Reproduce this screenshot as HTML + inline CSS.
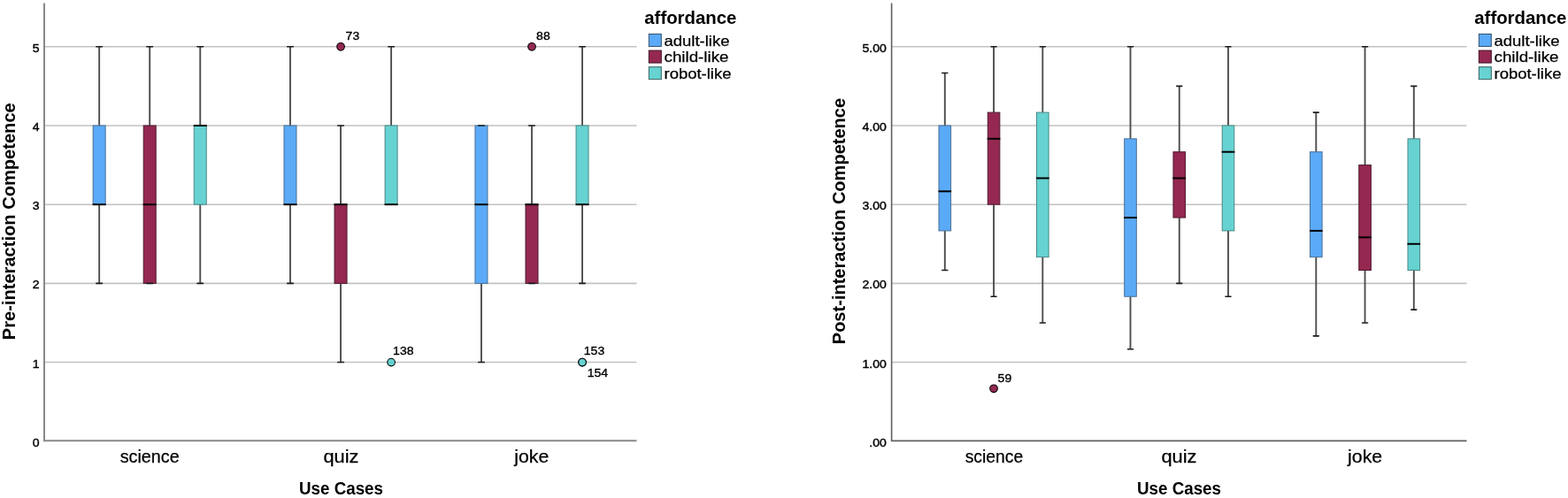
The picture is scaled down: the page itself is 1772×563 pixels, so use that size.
<!DOCTYPE html>
<html><head><meta charset="utf-8"><title>Box plots</title>
<style>
html,body{margin:0;padding:0;background:#fff;}
body{width:1772px;height:563px;overflow:hidden;}
svg{display:block;}
text{font-family:"Liberation Sans", Arial, sans-serif;fill:#000;}
</style></head><body>
<svg width="1772" height="563" viewBox="0 0 1772 563">
<rect width="1772" height="563" fill="#fff"/>
<line x1="50" y1="409.56" x2="719.5" y2="409.56" stroke="#c2c2c2" stroke-width="1.6"/>
<line x1="50" y1="320.37" x2="719.5" y2="320.37" stroke="#c2c2c2" stroke-width="1.6"/>
<line x1="50" y1="231.18" x2="719.5" y2="231.18" stroke="#c2c2c2" stroke-width="1.6"/>
<line x1="50" y1="141.99" x2="719.5" y2="141.99" stroke="#c2c2c2" stroke-width="1.6"/>
<line x1="50" y1="52.80" x2="719.5" y2="52.80" stroke="#c2c2c2" stroke-width="1.6"/>
<path d="M50 3.5 V498.3 H719.5" fill="none" stroke="#888888" stroke-width="2"/>
<text x="44.60" y="504.75" font-size="13" font-weight="normal" text-anchor="end" textLength="7.81" lengthAdjust="spacingAndGlyphs" stroke="#000" stroke-width="0.4">0</text>
<text x="44.60" y="415.56" font-size="13" font-weight="normal" text-anchor="end" textLength="7.81" lengthAdjust="spacingAndGlyphs" stroke="#000" stroke-width="0.4">1</text>
<text x="44.60" y="326.37" font-size="13" font-weight="normal" text-anchor="end" textLength="7.81" lengthAdjust="spacingAndGlyphs" stroke="#000" stroke-width="0.4">2</text>
<text x="44.60" y="237.18" font-size="13" font-weight="normal" text-anchor="end" textLength="7.81" lengthAdjust="spacingAndGlyphs" stroke="#000" stroke-width="0.4">3</text>
<text x="44.60" y="147.99" font-size="13" font-weight="normal" text-anchor="end" textLength="7.81" lengthAdjust="spacingAndGlyphs" stroke="#000" stroke-width="0.4">4</text>
<text x="44.60" y="58.80" font-size="13" font-weight="normal" text-anchor="end" textLength="7.81" lengthAdjust="spacingAndGlyphs" stroke="#000" stroke-width="0.4">5</text>
<line x1="112.15" y1="141.99" x2="112.15" y2="52.80" stroke="#4d4d4d" stroke-width="1.9"/>
<line x1="112.15" y1="231.18" x2="112.15" y2="320.37" stroke="#4d4d4d" stroke-width="1.9"/>
<rect x="105.15" y="141.99" width="14" height="89.19" fill="#5aaaf8" stroke="#4a6f94" stroke-width="1"/>
<line x1="108.85" y1="52.80" x2="115.45" y2="52.80" stroke="#1c1c1c" stroke-width="1.6" stroke-linecap="round"/>
<line x1="108.85" y1="320.37" x2="115.45" y2="320.37" stroke="#1c1c1c" stroke-width="1.6" stroke-linecap="round"/>
<line x1="104.65" y1="231.18" x2="119.65" y2="231.18" stroke="#000" stroke-width="2"/>
<line x1="169.20" y1="141.99" x2="169.20" y2="52.80" stroke="#4d4d4d" stroke-width="1.9"/>
<rect x="162.20" y="141.99" width="14" height="178.38" fill="#942851" stroke="#4e1a30" stroke-width="1"/>
<line x1="165.90" y1="52.80" x2="172.50" y2="52.80" stroke="#1c1c1c" stroke-width="1.6" stroke-linecap="round"/>
<line x1="165.90" y1="320.37" x2="172.50" y2="320.37" stroke="#1c1c1c" stroke-width="1.6" stroke-linecap="round"/>
<line x1="161.70" y1="231.18" x2="176.70" y2="231.18" stroke="#000" stroke-width="2"/>
<line x1="226.25" y1="141.99" x2="226.25" y2="52.80" stroke="#4d4d4d" stroke-width="1.9"/>
<line x1="226.25" y1="231.18" x2="226.25" y2="320.37" stroke="#4d4d4d" stroke-width="1.9"/>
<rect x="219.25" y="141.99" width="14" height="89.19" fill="#66d2d1" stroke="#4a8886" stroke-width="1"/>
<line x1="222.95" y1="52.80" x2="229.55" y2="52.80" stroke="#1c1c1c" stroke-width="1.6" stroke-linecap="round"/>
<line x1="222.95" y1="320.37" x2="229.55" y2="320.37" stroke="#1c1c1c" stroke-width="1.6" stroke-linecap="round"/>
<line x1="218.75" y1="141.99" x2="233.75" y2="141.99" stroke="#000" stroke-width="2"/>
<line x1="328.00" y1="141.99" x2="328.00" y2="52.80" stroke="#4d4d4d" stroke-width="1.9"/>
<line x1="328.00" y1="231.18" x2="328.00" y2="320.37" stroke="#4d4d4d" stroke-width="1.9"/>
<rect x="321.00" y="141.99" width="14" height="89.19" fill="#5aaaf8" stroke="#4a6f94" stroke-width="1"/>
<line x1="324.70" y1="52.80" x2="331.30" y2="52.80" stroke="#1c1c1c" stroke-width="1.6" stroke-linecap="round"/>
<line x1="324.70" y1="320.37" x2="331.30" y2="320.37" stroke="#1c1c1c" stroke-width="1.6" stroke-linecap="round"/>
<line x1="320.50" y1="231.18" x2="335.50" y2="231.18" stroke="#000" stroke-width="2"/>
<line x1="385.05" y1="231.18" x2="385.05" y2="141.99" stroke="#4d4d4d" stroke-width="1.9"/>
<line x1="385.05" y1="320.37" x2="385.05" y2="409.56" stroke="#4d4d4d" stroke-width="1.9"/>
<rect x="378.05" y="231.18" width="14" height="89.19" fill="#942851" stroke="#4e1a30" stroke-width="1"/>
<line x1="381.75" y1="141.99" x2="388.35" y2="141.99" stroke="#1c1c1c" stroke-width="1.6" stroke-linecap="round"/>
<line x1="381.75" y1="409.56" x2="388.35" y2="409.56" stroke="#1c1c1c" stroke-width="1.6" stroke-linecap="round"/>
<line x1="377.55" y1="231.18" x2="392.55" y2="231.18" stroke="#000" stroke-width="2"/>
<circle cx="385.05" cy="52.80" r="4.3" fill="#942851" stroke="#000" stroke-width="1.1"/>
<text x="390.60" y="45.30" font-size="13" font-weight="normal" text-anchor="start" textLength="15.61" lengthAdjust="spacingAndGlyphs" stroke="#000" stroke-width="0.35">73</text>
<line x1="442.10" y1="141.99" x2="442.10" y2="52.80" stroke="#4d4d4d" stroke-width="1.9"/>
<rect x="435.10" y="141.99" width="14" height="89.19" fill="#66d2d1" stroke="#4a8886" stroke-width="1"/>
<line x1="438.80" y1="52.80" x2="445.40" y2="52.80" stroke="#1c1c1c" stroke-width="1.6" stroke-linecap="round"/>
<line x1="438.80" y1="231.18" x2="445.40" y2="231.18" stroke="#1c1c1c" stroke-width="1.6" stroke-linecap="round"/>
<line x1="434.60" y1="231.18" x2="449.60" y2="231.18" stroke="#000" stroke-width="2"/>
<circle cx="442.10" cy="409.56" r="4.3" fill="#66d2d1" stroke="#000" stroke-width="1.1"/>
<text x="444.10" y="401.30" font-size="13" font-weight="normal" text-anchor="start" textLength="23.42" lengthAdjust="spacingAndGlyphs" stroke="#000" stroke-width="0.35">138</text>
<line x1="543.95" y1="320.37" x2="543.95" y2="409.56" stroke="#4d4d4d" stroke-width="1.9"/>
<rect x="536.95" y="141.99" width="14" height="178.38" fill="#5aaaf8" stroke="#4a6f94" stroke-width="1"/>
<line x1="540.65" y1="141.99" x2="547.25" y2="141.99" stroke="#1c1c1c" stroke-width="1.6" stroke-linecap="round"/>
<line x1="540.65" y1="409.56" x2="547.25" y2="409.56" stroke="#1c1c1c" stroke-width="1.6" stroke-linecap="round"/>
<line x1="536.45" y1="231.18" x2="551.45" y2="231.18" stroke="#000" stroke-width="2"/>
<line x1="601.00" y1="231.18" x2="601.00" y2="141.99" stroke="#4d4d4d" stroke-width="1.9"/>
<rect x="594.00" y="231.18" width="14" height="89.19" fill="#942851" stroke="#4e1a30" stroke-width="1"/>
<line x1="597.70" y1="141.99" x2="604.30" y2="141.99" stroke="#1c1c1c" stroke-width="1.6" stroke-linecap="round"/>
<line x1="597.70" y1="320.37" x2="604.30" y2="320.37" stroke="#1c1c1c" stroke-width="1.6" stroke-linecap="round"/>
<line x1="593.50" y1="231.18" x2="608.50" y2="231.18" stroke="#000" stroke-width="2"/>
<circle cx="601.00" cy="52.80" r="4.3" fill="#942851" stroke="#000" stroke-width="1.1"/>
<text x="606.10" y="45.30" font-size="13" font-weight="normal" text-anchor="start" textLength="15.61" lengthAdjust="spacingAndGlyphs" stroke="#000" stroke-width="0.35">88</text>
<line x1="658.05" y1="141.99" x2="658.05" y2="52.80" stroke="#4d4d4d" stroke-width="1.9"/>
<line x1="658.05" y1="231.18" x2="658.05" y2="320.37" stroke="#4d4d4d" stroke-width="1.9"/>
<rect x="651.05" y="141.99" width="14" height="89.19" fill="#66d2d1" stroke="#4a8886" stroke-width="1"/>
<line x1="654.75" y1="52.80" x2="661.35" y2="52.80" stroke="#1c1c1c" stroke-width="1.6" stroke-linecap="round"/>
<line x1="654.75" y1="320.37" x2="661.35" y2="320.37" stroke="#1c1c1c" stroke-width="1.6" stroke-linecap="round"/>
<line x1="650.55" y1="231.18" x2="665.55" y2="231.18" stroke="#000" stroke-width="2"/>
<circle cx="658.05" cy="409.56" r="4.3" fill="#66d2d1" stroke="#000" stroke-width="1.1"/>
<text x="659.80" y="401.30" font-size="13" font-weight="normal" text-anchor="start" textLength="23.42" lengthAdjust="spacingAndGlyphs" stroke="#000" stroke-width="0.35">153</text>
<circle cx="658.05" cy="409.56" r="4.3" fill="#66d2d1" stroke="#000" stroke-width="1.1"/>
<text x="663.70" y="425.80" font-size="13" font-weight="normal" text-anchor="start" textLength="23.42" lengthAdjust="spacingAndGlyphs" stroke="#000" stroke-width="0.35">154</text>
<text x="169.20" y="523.20" font-size="20.5" font-weight="normal" text-anchor="middle" textLength="67" lengthAdjust="spacingAndGlyphs" stroke="#000" stroke-width="0.25">science</text>
<text x="385.40" y="523.20" font-size="20.5" font-weight="normal" text-anchor="middle" textLength="40" lengthAdjust="spacingAndGlyphs" stroke="#000" stroke-width="0.25">quiz</text>
<text x="600.80" y="523.20" font-size="20.5" font-weight="normal" text-anchor="middle" textLength="39" lengthAdjust="spacingAndGlyphs" stroke="#000" stroke-width="0.25">joke</text>
<text x="385.50" y="558.75" font-size="19.5" font-weight="bold" text-anchor="middle" textLength="95" lengthAdjust="spacingAndGlyphs">Use Cases</text>
<text transform="translate(17.2,250.25) rotate(-90)" x="0" y="0" font-size="20" font-weight="bold" text-anchor="middle" textLength="268" lengthAdjust="spacingAndGlyphs">Pre-interaction Competence</text>
<text x="728.30" y="26.70" font-size="21" font-weight="bold" text-anchor="start" textLength="104.1" lengthAdjust="spacingAndGlyphs">affordance</text>
<rect x="733.30" y="38.45" width="14" height="14" fill="#5aaaf8" stroke="#34506c" stroke-width="1"/>
<text x="750.50" y="51.60" font-size="16.5" font-weight="normal" text-anchor="start" textLength="74" lengthAdjust="spacingAndGlyphs" stroke="#000" stroke-width="0.25">adult-like</text>
<rect x="733.30" y="57.07" width="14" height="14" fill="#942851" stroke="#3d1022" stroke-width="1"/>
<text x="750.50" y="70.22" font-size="16.5" font-weight="normal" text-anchor="start" textLength="73" lengthAdjust="spacingAndGlyphs" stroke="#000" stroke-width="0.25">child-like</text>
<rect x="733.30" y="75.69" width="14" height="14" fill="#66d2d1" stroke="#35615f" stroke-width="1"/>
<text x="750.50" y="88.84" font-size="16.5" font-weight="normal" text-anchor="start" textLength="76" lengthAdjust="spacingAndGlyphs" stroke="#000" stroke-width="0.25">robot-like</text>
<line x1="1007.6" y1="409.56" x2="1657.5" y2="409.56" stroke="#c2c2c2" stroke-width="1.6"/>
<line x1="1007.6" y1="320.37" x2="1657.5" y2="320.37" stroke="#c2c2c2" stroke-width="1.6"/>
<line x1="1007.6" y1="231.18" x2="1657.5" y2="231.18" stroke="#c2c2c2" stroke-width="1.6"/>
<line x1="1007.6" y1="141.99" x2="1657.5" y2="141.99" stroke="#c2c2c2" stroke-width="1.6"/>
<line x1="1007.6" y1="52.80" x2="1657.5" y2="52.80" stroke="#c2c2c2" stroke-width="1.6"/>
<path d="M1007.6 3.5 V498.4 H1657.5" fill="none" stroke="#606060" stroke-width="1.6"/>
<text x="1001.80" y="504.75" font-size="13" font-weight="normal" text-anchor="end" textLength="19.52" lengthAdjust="spacingAndGlyphs" stroke="#000" stroke-width="0.4">.00</text>
<text x="1001.80" y="415.56" font-size="13" font-weight="normal" text-anchor="end" textLength="27.32" lengthAdjust="spacingAndGlyphs" stroke="#000" stroke-width="0.4">1.00</text>
<text x="1001.80" y="326.37" font-size="13" font-weight="normal" text-anchor="end" textLength="27.32" lengthAdjust="spacingAndGlyphs" stroke="#000" stroke-width="0.4">2.00</text>
<text x="1001.80" y="237.18" font-size="13" font-weight="normal" text-anchor="end" textLength="27.32" lengthAdjust="spacingAndGlyphs" stroke="#000" stroke-width="0.4">3.00</text>
<text x="1001.80" y="147.99" font-size="13" font-weight="normal" text-anchor="end" textLength="27.32" lengthAdjust="spacingAndGlyphs" stroke="#000" stroke-width="0.4">4.00</text>
<text x="1001.80" y="58.80" font-size="13" font-weight="normal" text-anchor="end" textLength="27.32" lengthAdjust="spacingAndGlyphs" stroke="#000" stroke-width="0.4">5.00</text>
<line x1="1067.80" y1="141.99" x2="1067.80" y2="82.53" stroke="#4d4d4d" stroke-width="1.9"/>
<line x1="1067.80" y1="260.91" x2="1067.80" y2="305.50" stroke="#4d4d4d" stroke-width="1.9"/>
<rect x="1061.00" y="141.99" width="13.6" height="118.92" fill="#5aaaf8" stroke="#4a6f94" stroke-width="1"/>
<line x1="1064.80" y1="82.53" x2="1070.80" y2="82.53" stroke="#1c1c1c" stroke-width="1.6" stroke-linecap="round"/>
<line x1="1064.80" y1="305.50" x2="1070.80" y2="305.50" stroke="#1c1c1c" stroke-width="1.6" stroke-linecap="round"/>
<line x1="1060.50" y1="216.31" x2="1075.10" y2="216.31" stroke="#000" stroke-width="2"/>
<line x1="1123.05" y1="127.12" x2="1123.05" y2="52.80" stroke="#4d4d4d" stroke-width="1.9"/>
<line x1="1123.05" y1="231.18" x2="1123.05" y2="335.24" stroke="#4d4d4d" stroke-width="1.9"/>
<rect x="1116.25" y="127.12" width="13.6" height="104.06" fill="#942851" stroke="#4e1a30" stroke-width="1"/>
<line x1="1120.05" y1="52.80" x2="1126.05" y2="52.80" stroke="#1c1c1c" stroke-width="1.6" stroke-linecap="round"/>
<line x1="1120.05" y1="335.24" x2="1126.05" y2="335.24" stroke="#1c1c1c" stroke-width="1.6" stroke-linecap="round"/>
<line x1="1115.75" y1="156.86" x2="1130.35" y2="156.86" stroke="#000" stroke-width="2"/>
<circle cx="1123.05" cy="439.29" r="4.3" fill="#942851" stroke="#000" stroke-width="1.1"/>
<text x="1127.60" y="431.60" font-size="13" font-weight="normal" text-anchor="start" textLength="15.61" lengthAdjust="spacingAndGlyphs" stroke="#000" stroke-width="0.35">59</text>
<line x1="1178.30" y1="127.12" x2="1178.30" y2="52.80" stroke="#4d4d4d" stroke-width="1.9"/>
<line x1="1178.30" y1="290.64" x2="1178.30" y2="364.97" stroke="#4d4d4d" stroke-width="1.9"/>
<rect x="1171.50" y="127.12" width="13.6" height="163.51" fill="#66d2d1" stroke="#4a8886" stroke-width="1"/>
<line x1="1175.30" y1="52.80" x2="1181.30" y2="52.80" stroke="#1c1c1c" stroke-width="1.6" stroke-linecap="round"/>
<line x1="1175.30" y1="364.97" x2="1181.30" y2="364.97" stroke="#1c1c1c" stroke-width="1.6" stroke-linecap="round"/>
<line x1="1171.00" y1="201.45" x2="1185.60" y2="201.45" stroke="#000" stroke-width="2"/>
<line x1="1277.50" y1="156.86" x2="1277.50" y2="52.80" stroke="#4d4d4d" stroke-width="1.9"/>
<line x1="1277.50" y1="335.24" x2="1277.50" y2="394.69" stroke="#4d4d4d" stroke-width="1.9"/>
<rect x="1270.70" y="156.86" width="13.6" height="178.38" fill="#5aaaf8" stroke="#4a6f94" stroke-width="1"/>
<line x1="1274.50" y1="52.80" x2="1280.50" y2="52.80" stroke="#1c1c1c" stroke-width="1.6" stroke-linecap="round"/>
<line x1="1274.50" y1="394.69" x2="1280.50" y2="394.69" stroke="#1c1c1c" stroke-width="1.6" stroke-linecap="round"/>
<line x1="1270.20" y1="246.04" x2="1284.80" y2="246.04" stroke="#000" stroke-width="2"/>
<line x1="1332.75" y1="171.72" x2="1332.75" y2="97.39" stroke="#4d4d4d" stroke-width="1.9"/>
<line x1="1332.75" y1="246.04" x2="1332.75" y2="320.37" stroke="#4d4d4d" stroke-width="1.9"/>
<rect x="1325.95" y="171.72" width="13.6" height="74.32" fill="#942851" stroke="#4e1a30" stroke-width="1"/>
<line x1="1329.75" y1="97.39" x2="1335.75" y2="97.39" stroke="#1c1c1c" stroke-width="1.6" stroke-linecap="round"/>
<line x1="1329.75" y1="320.37" x2="1335.75" y2="320.37" stroke="#1c1c1c" stroke-width="1.6" stroke-linecap="round"/>
<line x1="1325.45" y1="201.45" x2="1340.05" y2="201.45" stroke="#000" stroke-width="2"/>
<line x1="1388.00" y1="141.99" x2="1388.00" y2="52.80" stroke="#4d4d4d" stroke-width="1.9"/>
<line x1="1388.00" y1="260.91" x2="1388.00" y2="335.24" stroke="#4d4d4d" stroke-width="1.9"/>
<rect x="1381.20" y="141.99" width="13.6" height="118.92" fill="#66d2d1" stroke="#4a8886" stroke-width="1"/>
<line x1="1385.00" y1="52.80" x2="1391.00" y2="52.80" stroke="#1c1c1c" stroke-width="1.6" stroke-linecap="round"/>
<line x1="1385.00" y1="335.24" x2="1391.00" y2="335.24" stroke="#1c1c1c" stroke-width="1.6" stroke-linecap="round"/>
<line x1="1380.70" y1="171.72" x2="1395.30" y2="171.72" stroke="#000" stroke-width="2"/>
<line x1="1487.30" y1="171.72" x2="1487.30" y2="127.12" stroke="#4d4d4d" stroke-width="1.9"/>
<line x1="1487.30" y1="290.64" x2="1487.30" y2="379.83" stroke="#4d4d4d" stroke-width="1.9"/>
<rect x="1480.50" y="171.72" width="13.6" height="118.92" fill="#5aaaf8" stroke="#4a6f94" stroke-width="1"/>
<line x1="1484.30" y1="127.12" x2="1490.30" y2="127.12" stroke="#1c1c1c" stroke-width="1.6" stroke-linecap="round"/>
<line x1="1484.30" y1="379.83" x2="1490.30" y2="379.83" stroke="#1c1c1c" stroke-width="1.6" stroke-linecap="round"/>
<line x1="1480.00" y1="260.91" x2="1494.60" y2="260.91" stroke="#000" stroke-width="2"/>
<line x1="1542.55" y1="186.59" x2="1542.55" y2="52.80" stroke="#4d4d4d" stroke-width="1.9"/>
<line x1="1542.55" y1="305.50" x2="1542.55" y2="364.97" stroke="#4d4d4d" stroke-width="1.9"/>
<rect x="1535.75" y="186.59" width="13.6" height="118.92" fill="#942851" stroke="#4e1a30" stroke-width="1"/>
<line x1="1539.55" y1="52.80" x2="1545.55" y2="52.80" stroke="#1c1c1c" stroke-width="1.6" stroke-linecap="round"/>
<line x1="1539.55" y1="364.97" x2="1545.55" y2="364.97" stroke="#1c1c1c" stroke-width="1.6" stroke-linecap="round"/>
<line x1="1535.25" y1="268.34" x2="1549.85" y2="268.34" stroke="#000" stroke-width="2"/>
<line x1="1597.80" y1="156.86" x2="1597.80" y2="97.39" stroke="#4d4d4d" stroke-width="1.9"/>
<line x1="1597.80" y1="305.50" x2="1597.80" y2="350.10" stroke="#4d4d4d" stroke-width="1.9"/>
<rect x="1591.00" y="156.86" width="13.6" height="148.65" fill="#66d2d1" stroke="#4a8886" stroke-width="1"/>
<line x1="1594.80" y1="97.39" x2="1600.80" y2="97.39" stroke="#1c1c1c" stroke-width="1.6" stroke-linecap="round"/>
<line x1="1594.80" y1="350.10" x2="1600.80" y2="350.10" stroke="#1c1c1c" stroke-width="1.6" stroke-linecap="round"/>
<line x1="1590.50" y1="275.77" x2="1605.10" y2="275.77" stroke="#000" stroke-width="2"/>
<text x="1123.50" y="523.20" font-size="20.5" font-weight="normal" text-anchor="middle" textLength="65.6" lengthAdjust="spacingAndGlyphs" stroke="#000" stroke-width="0.25">science</text>
<text x="1332.40" y="523.20" font-size="20.5" font-weight="normal" text-anchor="middle" textLength="40" lengthAdjust="spacingAndGlyphs" stroke="#000" stroke-width="0.25">quiz</text>
<text x="1542.60" y="523.20" font-size="20.5" font-weight="normal" text-anchor="middle" textLength="39" lengthAdjust="spacingAndGlyphs" stroke="#000" stroke-width="0.25">joke</text>
<text x="1332.50" y="558.75" font-size="19.5" font-weight="bold" text-anchor="middle" textLength="95" lengthAdjust="spacingAndGlyphs">Use Cases</text>
<text transform="translate(955.0,250.05) rotate(-90)" x="0" y="0" font-size="20" font-weight="bold" text-anchor="middle" textLength="278.4" lengthAdjust="spacingAndGlyphs">Post-interaction Competence</text>
<text x="1666.30" y="26.70" font-size="21" font-weight="bold" text-anchor="start" textLength="104.1" lengthAdjust="spacingAndGlyphs">affordance</text>
<rect x="1671.30" y="38.45" width="14" height="14" fill="#5aaaf8" stroke="#34506c" stroke-width="1"/>
<text x="1688.50" y="51.60" font-size="16.5" font-weight="normal" text-anchor="start" textLength="74" lengthAdjust="spacingAndGlyphs" stroke="#000" stroke-width="0.25">adult-like</text>
<rect x="1671.30" y="57.07" width="14" height="14" fill="#942851" stroke="#3d1022" stroke-width="1"/>
<text x="1688.50" y="70.22" font-size="16.5" font-weight="normal" text-anchor="start" textLength="73" lengthAdjust="spacingAndGlyphs" stroke="#000" stroke-width="0.25">child-like</text>
<rect x="1671.30" y="75.69" width="14" height="14" fill="#66d2d1" stroke="#35615f" stroke-width="1"/>
<text x="1688.50" y="88.84" font-size="16.5" font-weight="normal" text-anchor="start" textLength="76" lengthAdjust="spacingAndGlyphs" stroke="#000" stroke-width="0.25">robot-like</text>
</svg>
</body></html>
